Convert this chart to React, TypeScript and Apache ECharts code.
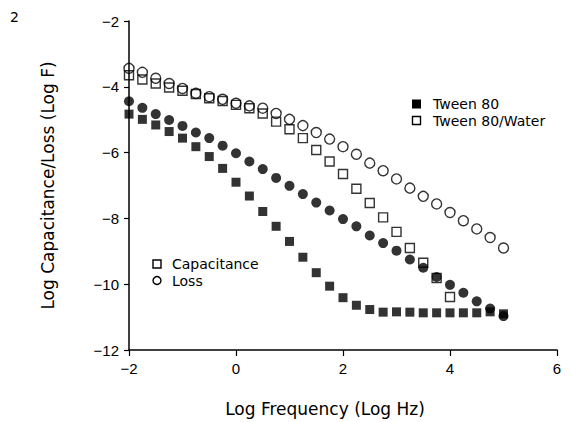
import React, { useEffect, useRef } from "react";
import * as echarts from "echarts";

const freq: number[] = [-2, -1.75, -1.5, -1.25, -1, -0.75, -0.5, -0.25, 0, 0.25, 0.5, 0.75, 1, 1.25, 1.5, 1.75, 2, 2.25, 2.5, 2.75, 3, 3.25, 3.5, 3.75, 4, 4.25, 4.5, 4.75, 5];

const tweenCap: number[] = [-4.83, -4.99, -5.16, -5.36, -5.56, -5.82, -6.12, -6.48, -6.9, -7.32, -7.79, -8.24, -8.7, -9.18, -9.65, -10.06, -10.41, -10.64, -10.77, -10.85, -10.84, -10.85, -10.87, -10.87, -10.87, -10.87, -10.87, -10.84, -10.9];
const tweenLoss: number[] = [-4.44, -4.64, -4.83, -5.01, -5.19, -5.39, -5.56, -5.79, -6.02, -6.27, -6.5, -6.77, -7.01, -7.26, -7.52, -7.76, -8.02, -8.24, -8.52, -8.75, -8.98, -9.25, -9.5, -9.78, -10.02, -10.26, -10.52, -10.74, -10.97];
const waterCap: number[] = [-3.65, -3.78, -3.9, -4.02, -4.12, -4.22, -4.35, -4.43, -4.55, -4.65, -4.81, -5.06, -5.29, -5.56, -5.92, -6.27, -6.65, -7.1, -7.53, -7.97, -8.41, -8.9, -9.35, -9.81, -10.39];
const waterLoss: number[] = [-3.44, -3.56, -3.74, -3.9, -4.05, -4.2, -4.3, -4.38, -4.5, -4.58, -4.65, -4.81, -4.99, -5.18, -5.39, -5.59, -5.82, -6.05, -6.32, -6.55, -6.8, -7.08, -7.33, -7.56, -7.82, -8.07, -8.32, -8.58, -8.9];

const panelLabel = "2";
const xTitle = "Log Frequency (Log Hz)";
const yTitle = "Log Capacitance/Loss (Log F)";
const legendSolvent = ["Tween 80", "Tween 80/Water"];
const legendQuantity = ["Capacitance", "Loss"];

const FONT = "DejaVu Sans";
const TICK_FONT = "Liberation Sans";
const INK = "#000";

function pairs(ys: number[]): number[][] {
  return ys.map((y, i) => [freq[i], y]);
}

function tickFmt(v: number): string {
  return v < 0 ? "\u2212" + String(Math.abs(v)) : String(v);
}

export default function App() {
  const ref = useRef<HTMLDivElement>(null);
  useEffect(() => {
    if (!ref.current) return;
    const chart = echarts.init(ref.current, undefined, { renderer: "svg" });
    const openStyle = { color: "rgba(0,0,0,0)", borderColor: INK, borderWidth: 1.4 };
    const filledStyle = { color: INK };
    chart.setOption({
      animation: false,
      backgroundColor: "#fff",
      grid: { left: 129, top: 21, width: 428, height: 330 },
      xAxis: {
        type: "value",
        min: -2,
        max: 6,
        interval: 2,
        name: xTitle,
        nameLocation: "middle",
        nameGap: 50,
        nameTextStyle: { fontFamily: FONT, fontSize: 17, color: INK, padding: [0, 0, 0, -36] },
        axisLine: { show: true, onZero: false, lineStyle: { color: INK, width: 1.5 } },
        axisTick: { show: true, inside: false, length: 6, lineStyle: { color: INK, width: 1.2 } },
        axisLabel: { fontFamily: TICK_FONT, fontSize: 15, color: INK, margin: 11, formatter: tickFmt },
        splitLine: { show: false },
      },
      yAxis: {
        type: "value",
        min: -12,
        max: -2,
        interval: 2,
        name: yTitle,
        nameLocation: "middle",
        nameGap: 73,
        nameRotate: 90,
        nameTextStyle: { fontFamily: FONT, fontSize: 17, color: INK },
        axisLine: { show: true, onZero: false, lineStyle: { color: INK, width: 1.5 } },
        axisTick: { show: true, inside: false, length: 5, lineStyle: { color: INK, width: 1.2 } },
        axisLabel: { fontFamily: TICK_FONT, fontSize: 15, color: INK, margin: 10, formatter: tickFmt },
        splitLine: { show: false },
      },
      series: [
        { name: "Tween 80/Water Capacitance", type: "scatter", symbol: "rect", symbolSize: 9, data: pairs(waterCap), itemStyle: openStyle },
        { name: "Tween 80/Water Loss", type: "scatter", symbol: "circle", symbolSize: 10, data: pairs(waterLoss), itemStyle: openStyle },
        { name: "Tween 80 Loss", type: "scatter", symbol: "circle", symbolSize: 10, data: pairs(tweenLoss), itemStyle: filledStyle },
        { name: "Tween 80 Capacitance", type: "scatter", symbol: "rect", symbolSize: 9, data: pairs(tweenCap), itemStyle: filledStyle },
      ],
      graphic: [
        { type: "text", left: 10, top: 10, style: { text: panelLabel, fontFamily: FONT, fontSize: 14, fill: INK } },
        { type: "rect", shape: { x: 412, y: 99.5, width: 9, height: 9 }, style: { fill: INK } },
        { type: "text", x: 433, y: 104, style: { text: legendSolvent[0], fontFamily: FONT, fontSize: 14, fill: INK, verticalAlign: "middle" } },
        { type: "rect", shape: { x: 412.5, y: 116.5, width: 8, height: 8 }, style: { fill: "none", stroke: INK, lineWidth: 1.4 } },
        { type: "text", x: 433, y: 121, style: { text: legendSolvent[1], fontFamily: FONT, fontSize: 14, fill: INK, verticalAlign: "middle" } },
        { type: "rect", shape: { x: 153, y: 260, width: 8, height: 8 }, style: { fill: "none", stroke: INK, lineWidth: 1.4 } },
        { type: "text", x: 172, y: 264, style: { text: legendQuantity[0], fontFamily: FONT, fontSize: 14, fill: INK, verticalAlign: "middle" } },
        { type: "circle", shape: { cx: 157, cy: 280.5, r: 4 }, style: { fill: "none", stroke: INK, lineWidth: 1.4 } },
        { type: "text", x: 172, y: 281, style: { text: legendQuantity[1], fontFamily: FONT, fontSize: 14, fill: INK, verticalAlign: "middle" } },
      ],
    });
    return () => chart.dispose();
  }, []);
  return <div ref={ref} style={{ width: 571, height: 422, marginLeft: -8, marginTop: -8 }} />;
}
